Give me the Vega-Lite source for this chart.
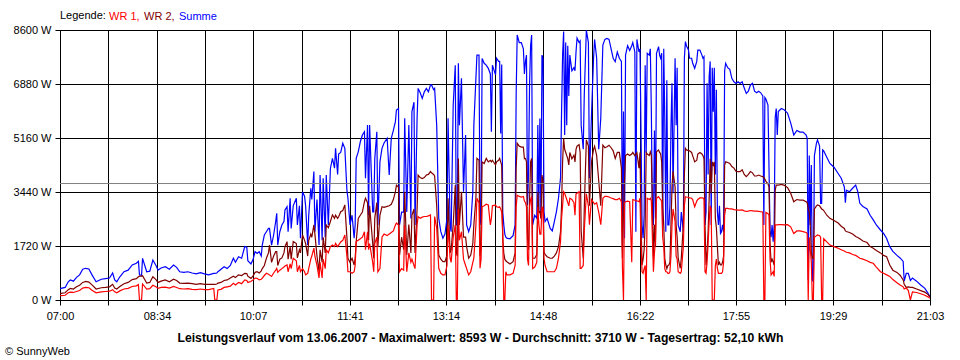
{
  "$schema": "https://vega.github.io/schema/vega-lite/v6.json",
  "autosize": "none",
  "width": 870,
  "height": 270,
  "padding": {"left": 60, "top": 30, "right": 30, "bottom": 60},
  "background": "#ffffff",
  "config": {
    "font": "Liberation Sans",
    "view": {"stroke": "#000000", "strokeWidth": 1},
    "axis": {"domainColor": "#000000", "tickColor": "#000000", "gridColor": "#000000", "gridOpacity": 1, "gridWidth": 1, "labelColor": "#000000", "labelFont": "Liberation Sans", "labelFontSize": 11, "tickSize": 5, "zindex": 1}
  },
  "title": {"text": "© SunnyWeb", "orient": "bottom", "anchor": "start", "dx": -8, "offset": 3, "fontSize": 11, "fontWeight": "normal", "color": "#000000", "font": "Liberation Sans"},
  "data": {
    "format": {"parse": {"Zeit": "date:'%H:%M'"}},
    "values": [
      {"Zeit":"07:00","WR 1":130,"WR 2":200,"Summe":350},
      {"Zeit":"07:01","WR 1":138,"WR 2":213,"Summe":372},
      {"Zeit":"07:05","WR 1":150,"WR 2":230,"Summe":400},
      {"Zeit":"07:08","WR 1":230,"WR 2":330,"Summe":580},
      {"Zeit":"07:10","WR 1":250,"WR 2":370,"Summe":637},
      {"Zeit":"07:13","WR 1":240,"WR 2":350,"Summe":600},
      {"Zeit":"07:16","WR 1":270,"WR 2":420,"Summe":720},
      {"Zeit":"07:19","WR 1":300,"WR 2":470,"Summe":800},
      {"Zeit":"07:22","WR 1":380,"WR 2":560,"Summe":980},
      {"Zeit":"07:25","WR 1":400,"WR 2":590,"Summe":1010},
      {"Zeit":"07:28","WR 1":390,"WR 2":570,"Summe":990},
      {"Zeit":"07:31","WR 1":310,"WR 2":480,"Summe":800},
      {"Zeit":"07:35","WR 1":230,"WR 2":350,"Summe":580},
      {"Zeit":"07:40","WR 1":260,"WR 2":390,"Summe":660},
      {"Zeit":"07:44","WR 1":270,"WR 2":400,"Summe":680},
      {"Zeit":"07:48","WR 1":280,"WR 2":420,"Summe":700},
      {"Zeit":"07:51","WR 1":330,"WR 2":500,"Summe":860},
      {"Zeit":"07:53","WR 1":260,"WR 2":380,"Summe":640},
      {"Zeit":"07:55","WR 1":230,"WR 2":350,"Summe":580},
      {"Zeit":"07:58","WR 1":290,"WR 2":430,"Summe":740},
      {"Zeit":"08:02","WR 1":350,"WR 2":520,"Summe":900},
      {"Zeit":"08:06","WR 1":370,"WR 2":560,"Summe":950},
      {"Zeit":"08:10","WR 1":430,"WR 2":650,"Summe":1115},
      {"Zeit":"08:14","WR 1":450,"WR 2":680,"Summe":1170},
      {"Zeit":"08:16","WR 1":490,"WR 2":740,"Summe":1230},
      {"Zeit":"08:17","WR 1":0,"WR 2":760,"Summe":800},
      {"Zeit":"08:19","WR 1":0,"WR 2":760,"Summe":780},
      {"Zeit":"08:20","WR 1":510,"WR 2":770,"Summe":1327},
      {"Zeit":"08:24","WR 1":350,"WR 2":540,"Summe":900},
      {"Zeit":"08:27","WR 1":360,"WR 2":560,"Summe":920},
      {"Zeit":"08:30","WR 1":470,"WR 2":740,"Summe":1274},
      {"Zeit":"08:33","WR 1":420,"WR 2":650,"Summe":1100},
      {"Zeit":"08:35","WR 1":370,"WR 2":560,"Summe":955},
      {"Zeit":"08:38","WR 1":400,"WR 2":600,"Summe":1020},
      {"Zeit":"08:42","WR 1":410,"WR 2":640,"Summe":1060},
      {"Zeit":"08:46","WR 1":380,"WR 2":580,"Summe":980},
      {"Zeit":"08:50","WR 1":430,"WR 2":660,"Summe":1115},
      {"Zeit":"08:53","WR 1":400,"WR 2":620,"Summe":1040},
      {"Zeit":"08:56","WR 1":360,"WR 2":540,"Summe":900},
      {"Zeit":"09:00","WR 1":350,"WR 2":530,"Summe":880},
      {"Zeit":"09:04","WR 1":360,"WR 2":540,"Summe":900},
      {"Zeit":"09:08","WR 1":340,"WR 2":520,"Summe":860},
      {"Zeit":"09:12","WR 1":330,"WR 2":500,"Summe":830},
      {"Zeit":"09:16","WR 1":350,"WR 2":520,"Summe":870},
      {"Zeit":"09:20","WR 1":330,"WR 2":500,"Summe":830},
      {"Zeit":"09:24","WR 1":330,"WR 2":500,"Summe":800},
      {"Zeit":"09:29","WR 1":370,"WR 2":500,"Summe":850},
      {"Zeit":"09:30","WR 1":0,"WR 2":500,"Summe":850},
      {"Zeit":"09:32","WR 1":0,"WR 2":510,"Summe":860},
      {"Zeit":"09:33","WR 1":320,"WR 2":540,"Summe":900},
      {"Zeit":"09:36","WR 1":340,"WR 2":560,"Summe":980},
      {"Zeit":"09:39","WR 1":400,"WR 2":620,"Summe":1060},
      {"Zeit":"09:42","WR 1":420,"WR 2":640,"Summe":1000},
      {"Zeit":"09:45","WR 1":440,"WR 2":700,"Summe":1100},
      {"Zeit":"09:48","WR 1":530,"WR 2":760,"Summe":1330},
      {"Zeit":"09:50","WR 1":480,"WR 2":720,"Summe":1200},
      {"Zeit":"09:53","WR 1":560,"WR 2":800,"Summe":1380},
      {"Zeit":"09:56","WR 1":520,"WR 2":780,"Summe":1330},
      {"Zeit":"09:59","WR 1":640,"WR 2":850,"Summe":1700},
      {"Zeit":"10:01","WR 1":620,"WR 2":840,"Summe":1680},
      {"Zeit":"10:02","WR 1":560,"WR 2":760,"Summe":1250},
      {"Zeit":"10:05","WR 1":590,"WR 2":690,"Summe":1150},
      {"Zeit":"10:07","WR 1":640,"WR 2":760,"Summe":1280},
      {"Zeit":"10:09","WR 1":700,"WR 2":880,"Summe":1540},
      {"Zeit":"10:11","WR 1":690,"WR 2":900,"Summe":1480},
      {"Zeit":"10:13","WR 1":640,"WR 2":860,"Summe":1540},
      {"Zeit":"10:15","WR 1":660,"WR 2":930,"Summe":1400},
      {"Zeit":"10:16","WR 1":700,"WR 2":1000,"Summe":1750},
      {"Zeit":"10:18","WR 1":780,"WR 2":1100,"Summe":2070},
      {"Zeit":"10:20","WR 1":850,"WR 2":1330,"Summe":2175},
      {"Zeit":"10:22","WR 1":820,"WR 2":1500,"Summe":2280},
      {"Zeit":"10:23","WR 1":800,"WR 2":1750,"Summe":2280},
      {"Zeit":"10:25","WR 1":750,"WR 2":1200,"Summe":1750},
      {"Zeit":"10:27","WR 1":860,"WR 2":1400,"Summe":2070},
      {"Zeit":"10:29","WR 1":950,"WR 2":1540,"Summe":2500},
      {"Zeit":"10:30","WR 1":1010,"WR 2":1540,"Summe":2760},
      {"Zeit":"10:31","WR 1":880,"WR 2":1100,"Summe":1750},
      {"Zeit":"10:33","WR 1":950,"WR 2":1300,"Summe":2175},
      {"Zeit":"10:35","WR 1":1000,"WR 2":1340,"Summe":2390},
      {"Zeit":"10:37","WR 1":1050,"WR 2":1500,"Summe":2500},
      {"Zeit":"10:38","WR 1":1080,"WR 2":1700,"Summe":2870},
      {"Zeit":"10:40","WR 1":1115,"WR 2":1860,"Summe":2970},
      {"Zeit":"10:41","WR 1":900,"WR 2":1300,"Summe":2175},
      {"Zeit":"10:43","WR 1":1150,"WR 2":1700,"Summe":3240},
      {"Zeit":"10:44","WR 1":1000,"WR 2":1300,"Summe":2280},
      {"Zeit":"10:46","WR 1":1330,"WR 2":1860,"Summe":3000},
      {"Zeit":"10:49","WR 1":1250,"WR 2":1800,"Summe":3240},
      {"Zeit":"10:50","WR 1":900,"WR 2":1340,"Summe":2390},
      {"Zeit":"10:52","WR 1":1100,"WR 2":1600,"Summe":3000},
      {"Zeit":"10:53","WR 1":900,"WR 2":1500,"Summe":1970},
      {"Zeit":"10:55","WR 1":1000,"WR 2":2070,"Summe":3450},
      {"Zeit":"10:57","WR 1":900,"WR 2":1900,"Summe":3300},
      {"Zeit":"10:58","WR 1":800,"WR 2":1800,"Summe":3000},
      {"Zeit":"11:00","WR 1":850,"WR 2":1400,"Summe":1750},
      {"Zeit":"11:01","WR 1":1000,"WR 2":1900,"Summe":2700},
      {"Zeit":"11:03","WR 1":1300,"WR 2":2100,"Summe":3560},
      {"Zeit":"11:04","WR 1":1400,"WR 2":2000,"Summe":3200},
      {"Zeit":"11:06","WR 1":1650,"WR 2":2390,"Summe":4090},
      {"Zeit":"11:07","WR 1":1400,"WR 2":2100,"Summe":2175},
      {"Zeit":"11:09","WR 1":1100,"WR 2":1400,"Summe":3200},
      {"Zeit":"11:11","WR 1":700,"WR 2":900,"Summe":1750},
      {"Zeit":"11:12","WR 1":1200,"WR 2":1600,"Summe":3980},
      {"Zeit":"11:14","WR 1":700,"WR 2":1200,"Summe":1900},
      {"Zeit":"11:15","WR 1":1300,"WR 2":2000,"Summe":3880},
      {"Zeit":"11:17","WR 1":1000,"WR 2":1500,"Summe":2000},
      {"Zeit":"11:18","WR 1":1600,"WR 2":2390,"Summe":3980},
      {"Zeit":"11:20","WR 1":1500,"WR 2":2300,"Summe":2390},
      {"Zeit":"11:22","WR 1":1700,"WR 2":2500,"Summe":4190},
      {"Zeit":"11:24","WR 1":1750,"WR 2":2710,"Summe":4510},
      {"Zeit":"11:26","WR 1":1700,"WR 2":2600,"Summe":4200},
      {"Zeit":"11:27","WR 1":1800,"WR 2":2700,"Summe":4830},
      {"Zeit":"11:29","WR 1":1700,"WR 2":2600,"Summe":4000},
      {"Zeit":"11:30","WR 1":1750,"WR 2":2650,"Summe":4650},
      {"Zeit":"11:32","WR 1":1850,"WR 2":2810,"Summe":4700},
      {"Zeit":"11:34","WR 1":1900,"WR 2":2850,"Summe":4990},
      {"Zeit":"11:36","WR 1":2070,"WR 2":3030,"Summe":4830},
      {"Zeit":"11:38","WR 1":1400,"WR 2":2000,"Summe":3500},
      {"Zeit":"11:39","WR 1":900,"WR 2":1330,"Summe":3240},
      {"Zeit":"11:41","WR 1":900,"WR 2":1200,"Summe":2390},
      {"Zeit":"11:43","WR 1":850,"WR 2":1330,"Summe":2700},
      {"Zeit":"11:45","WR 1":900,"WR 2":1115,"Summe":1970},
      {"Zeit":"11:46","WR 1":1100,"WR 2":1330,"Summe":2390},
      {"Zeit":"11:47","WR 1":1860,"WR 2":1860,"Summe":4510},
      {"Zeit":"11:49","WR 1":1900,"WR 2":2600,"Summe":4720},
      {"Zeit":"11:51","WR 1":1950,"WR 2":2700,"Summe":5040},
      {"Zeit":"11:53","WR 1":2000,"WR 2":2800,"Summe":5255},
      {"Zeit":"11:55","WR 1":2175,"WR 2":3130,"Summe":5360},
      {"Zeit":"11:56","WR 1":1600,"WR 2":3240,"Summe":3880},
      {"Zeit":"11:58","WR 1":2175,"WR 2":3100,"Summe":5570},
      {"Zeit":"11:59","WR 1":1600,"WR 2":1900,"Summe":2700},
      {"Zeit":"12:00","WR 1":1800,"WR 2":3000,"Summe":5570},
      {"Zeit":"12:03","WR 1":1200,"WR 2":1800,"Summe":2810},
      {"Zeit":"12:04","WR 1":900,"WR 2":1330,"Summe":2810},
      {"Zeit":"12:05","WR 1":1800,"WR 2":2600,"Summe":4500},
      {"Zeit":"12:07","WR 1":2000,"WR 2":3100,"Summe":5360},
      {"Zeit":"12:08","WR 1":900,"WR 2":1700,"Summe":2390},
      {"Zeit":"12:10","WR 1":1000,"WR 2":2700,"Summe":4400},
      {"Zeit":"12:12","WR 1":2000,"WR 2":2970,"Summe":4830},
      {"Zeit":"12:14","WR 1":2100,"WR 2":2950,"Summe":5000},
      {"Zeit":"12:17","WR 1":2050,"WR 2":2980,"Summe":5150},
      {"Zeit":"12:19","WR 1":2100,"WR 2":3000,"Summe":3980},
      {"Zeit":"12:21","WR 1":2150,"WR 2":3050,"Summe":5150},
      {"Zeit":"12:23","WR 1":2200,"WR 2":3200,"Summe":5400},
      {"Zeit":"12:25","WR 1":2390,"WR 2":3450,"Summe":5680},
      {"Zeit":"12:26","WR 1":2450,"WR 2":3660,"Summe":6050},
      {"Zeit":"12:28","WR 1":2390,"WR 2":3600,"Summe":6100},
      {"Zeit":"12:29","WR 1":900,"WR 2":1430,"Summe":2390},
      {"Zeit":"12:31","WR 1":1000,"WR 2":2000,"Summe":2800},
      {"Zeit":"12:33","WR 1":950,"WR 2":1600,"Summe":2800},
      {"Zeit":"12:34","WR 1":2390,"WR 2":3450,"Summe":5790},
      {"Zeit":"12:36","WR 1":900,"WR 2":1430,"Summe":2800},
      {"Zeit":"12:38","WR 1":1500,"WR 2":2400,"Summe":5570},
      {"Zeit":"12:40","WR 1":1200,"WR 2":1500,"Summe":2600},
      {"Zeit":"12:41","WR 1":1300,"WR 2":2700,"Summe":6000},
      {"Zeit":"12:43","WR 1":1100,"WR 2":2900,"Summe":6300},
      {"Zeit":"12:44","WR 1":1000,"WR 2":1500,"Summe":2390},
      {"Zeit":"12:46","WR 1":2390,"WR 2":2900,"Summe":5790},
      {"Zeit":"12:47","WR 1":2660,"WR 2":3980,"Summe":6740},
      {"Zeit":"12:49","WR 1":2600,"WR 2":3900,"Summe":6600},
      {"Zeit":"12:51","WR 1":2640,"WR 2":3870,"Summe":6420},
      {"Zeit":"12:53","WR 1":2660,"WR 2":3900,"Summe":6630},
      {"Zeit":"12:55","WR 1":2660,"WR 2":3980,"Summe":6740},
      {"Zeit":"12:57","WR 1":2680,"WR 2":4000,"Summe":6630},
      {"Zeit":"12:59","WR 1":2710,"WR 2":4090,"Summe":6850},
      {"Zeit":"13:00","WR 1":0,"WR 2":4050,"Summe":6850},
      {"Zeit":"13:02","WR 1":0,"WR 2":4000,"Summe":6700},
      {"Zeit":"13:03","WR 1":2660,"WR 2":3950,"Summe":6740},
      {"Zeit":"13:05","WR 1":2300,"WR 2":3000,"Summe":5570},
      {"Zeit":"13:07","WR 1":1010,"WR 2":1430,"Summe":2600},
      {"Zeit":"13:09","WR 1":850,"WR 2":1300,"Summe":2175},
      {"Zeit":"13:11","WR 1":800,"WR 2":1220,"Summe":1970},
      {"Zeit":"13:13","WR 1":800,"WR 2":1220,"Summe":2100},
      {"Zeit":"13:15","WR 1":1100,"WR 2":1430,"Summe":2600},
      {"Zeit":"13:16","WR 1":2390,"WR 2":3240,"Summe":5790},
      {"Zeit":"13:18","WR 1":1330,"WR 2":1500,"Summe":2390},
      {"Zeit":"13:19","WR 1":1200,"WR 2":1600,"Summe":2175},
      {"Zeit":"13:21","WR 1":2000,"WR 2":2400,"Summe":6210},
      {"Zeit":"13:23","WR 1":2390,"WR 2":3660,"Summe":7480},
      {"Zeit":"13:24","WR 1":0,"WR 2":1500,"Summe":2390},
      {"Zeit":"13:25","WR 1":0,"WR 2":1400,"Summe":2390},
      {"Zeit":"13:26","WR 1":2900,"WR 2":4510,"Summe":7540},
      {"Zeit":"13:27","WR 1":1900,"WR 2":2390,"Summe":5570},
      {"Zeit":"13:29","WR 1":2175,"WR 2":3450,"Summe":7060},
      {"Zeit":"13:31","WR 1":1300,"WR 2":2000,"Summe":3450},
      {"Zeit":"13:33","WR 1":1100,"WR 2":2000,"Summe":5255},
      {"Zeit":"13:34","WR 1":1000,"WR 2":1700,"Summe":2390},
      {"Zeit":"13:36","WR 1":800,"WR 2":1330,"Summe":2175},
      {"Zeit":"13:38","WR 1":900,"WR 2":1430,"Summe":2390},
      {"Zeit":"13:40","WR 1":1200,"WR 2":1800,"Summe":3450},
      {"Zeit":"13:41","WR 1":1330,"WR 2":2390,"Summe":5570},
      {"Zeit":"13:43","WR 1":2390,"WR 2":3240,"Summe":7060},
      {"Zeit":"13:44","WR 1":3240,"WR 2":4510,"Summe":7800},
      {"Zeit":"13:46","WR 1":3100,"WR 2":4450,"Summe":7800},
      {"Zeit":"13:47","WR 1":1010,"WR 2":1400,"Summe":2600},
      {"Zeit":"13:48","WR 1":1300,"WR 2":1700,"Summe":2390},
      {"Zeit":"13:49","WR 1":2970,"WR 2":4400,"Summe":7690},
      {"Zeit":"13:51","WR 1":3000,"WR 2":4350,"Summe":7540},
      {"Zeit":"13:53","WR 1":3050,"WR 2":4510,"Summe":7480},
      {"Zeit":"13:55","WR 1":3030,"WR 2":4400,"Summe":7380},
      {"Zeit":"13:57","WR 1":2390,"WR 2":4450,"Summe":7200},
      {"Zeit":"13:58","WR 1":2600,"WR 2":4400,"Summe":5360},
      {"Zeit":"13:59","WR 1":3000,"WR 2":4450,"Summe":7480},
      {"Zeit":"14:02","WR 1":3030,"WR 2":4300,"Summe":7170},
      {"Zeit":"14:03","WR 1":2970,"WR 2":4400,"Summe":7700},
      {"Zeit":"14:05","WR 1":2950,"WR 2":4450,"Summe":7600},
      {"Zeit":"14:06","WR 1":2970,"WR 2":4510,"Summe":7600},
      {"Zeit":"14:07","WR 1":2900,"WR 2":4400,"Summe":5300},
      {"Zeit":"14:08","WR 1":2800,"WR 2":4300,"Summe":7500},
      {"Zeit":"14:09","WR 1":2100,"WR 2":1970,"Summe":2810},
      {"Zeit":"14:10","WR 1":0,"WR 2":1500,"Summe":2400},
      {"Zeit":"14:11","WR 1":0,"WR 2":1300,"Summe":2100},
      {"Zeit":"14:12","WR 1":900,"WR 2":1250,"Summe":2000},
      {"Zeit":"14:13","WR 1":800,"WR 2":1220,"Summe":1970},
      {"Zeit":"14:16","WR 1":800,"WR 2":1150,"Summe":1950},
      {"Zeit":"14:19","WR 1":850,"WR 2":1220,"Summe":2050},
      {"Zeit":"14:21","WR 1":1100,"WR 2":1500,"Summe":2390},
      {"Zeit":"14:22","WR 1":2970,"WR 2":4200,"Summe":6530},
      {"Zeit":"14:23","WR 1":3340,"WR 2":4990,"Summe":8440},
      {"Zeit":"14:25","WR 1":3300,"WR 2":4900,"Summe":8200},
      {"Zeit":"14:27","WR 1":3280,"WR 2":4870,"Summe":8200},
      {"Zeit":"14:29","WR 1":3300,"WR 2":4870,"Summe":8000},
      {"Zeit":"14:30","WR 1":3150,"WR 2":4500,"Summe":7200},
      {"Zeit":"14:31","WR 1":3100,"WR 2":4510,"Summe":7600},
      {"Zeit":"14:32","WR 1":2970,"WR 2":4400,"Summe":7800},
      {"Zeit":"14:33","WR 1":1300,"WR 2":1970,"Summe":3030},
      {"Zeit":"14:34","WR 1":1100,"WR 2":1600,"Summe":4000},
      {"Zeit":"14:35","WR 1":2970,"WR 2":3200,"Summe":6900},
      {"Zeit":"14:36","WR 1":3200,"WR 2":4400,"Summe":8100},
      {"Zeit":"14:37","WR 1":3300,"WR 2":4510,"Summe":8440},
      {"Zeit":"14:38","WR 1":1000,"WR 2":1330,"Summe":2390},
      {"Zeit":"14:40","WR 1":1050,"WR 2":1330,"Summe":2700},
      {"Zeit":"14:42","WR 1":1200,"WR 2":1450,"Summe":2600},
      {"Zeit":"14:43","WR 1":2970,"WR 2":3450,"Summe":5570},
      {"Zeit":"14:44","WR 1":2400,"WR 2":2800,"Summe":2810},
      {"Zeit":"14:45","WR 1":2100,"WR 2":2810,"Summe":5780},
      {"Zeit":"14:46","WR 1":2100,"WR 2":2600,"Summe":2600},
      {"Zeit":"14:47","WR 1":2970,"WR 2":3980,"Summe":7800},
      {"Zeit":"14:48","WR 1":2900,"WR 2":3800,"Summe":7700},
      {"Zeit":"14:49","WR 1":1330,"WR 2":1540,"Summe":2810},
      {"Zeit":"14:50","WR 1":1100,"WR 2":1450,"Summe":2500},
      {"Zeit":"14:52","WR 1":900,"WR 2":1380,"Summe":2600},
      {"Zeit":"14:55","WR 1":900,"WR 2":1330,"Summe":2280},
      {"Zeit":"14:57","WR 1":900,"WR 2":1330,"Summe":2200},
      {"Zeit":"14:59","WR 1":900,"WR 2":1400,"Summe":2500},
      {"Zeit":"15:01","WR 1":1010,"WR 2":1500,"Summe":2810},
      {"Zeit":"15:03","WR 1":1330,"WR 2":1700,"Summe":3240},
      {"Zeit":"15:05","WR 1":1860,"WR 2":2175,"Summe":3880},
      {"Zeit":"15:06","WR 1":2600,"WR 2":3000,"Summe":6000},
      {"Zeit":"15:07","WR 1":3000,"WR 2":4400,"Summe":7800},
      {"Zeit":"15:08","WR 1":3450,"WR 2":5150,"Summe":8550},
      {"Zeit":"15:09","WR 1":3400,"WR 2":4800,"Summe":5255},
      {"Zeit":"15:10","WR 1":3300,"WR 2":4700,"Summe":8200},
      {"Zeit":"15:11","WR 1":3200,"WR 2":4600,"Summe":5570},
      {"Zeit":"15:12","WR 1":3100,"WR 2":4500,"Summe":8100},
      {"Zeit":"15:13","WR 1":3000,"WR 2":4300,"Summe":6500},
      {"Zeit":"15:14","WR 1":3240,"WR 2":4700,"Summe":7800},
      {"Zeit":"15:16","WR 1":3200,"WR 2":4500,"Summe":7300},
      {"Zeit":"15:18","WR 1":3100,"WR 2":4610,"Summe":7400},
      {"Zeit":"15:19","WR 1":2700,"WR 2":4400,"Summe":7300},
      {"Zeit":"15:20","WR 1":3380,"WR 2":4800,"Summe":7900},
      {"Zeit":"15:21","WR 1":3400,"WR 2":4900,"Summe":8340},
      {"Zeit":"15:23","WR 1":3450,"WR 2":4950,"Summe":8200},
      {"Zeit":"15:24","WR 1":1010,"WR 2":4700,"Summe":8250},
      {"Zeit":"15:25","WR 1":1010,"WR 2":2200,"Summe":5570},
      {"Zeit":"15:27","WR 1":1100,"WR 2":1330,"Summe":4800},
      {"Zeit":"15:28","WR 1":2200,"WR 2":2900,"Summe":6530},
      {"Zeit":"15:30","WR 1":3380,"WR 2":5100,"Summe":8593},
      {"Zeit":"15:32","WR 1":3000,"WR 2":4900,"Summe":8200},
      {"Zeit":"15:33","WR 1":2400,"WR 2":3000,"Summe":3880},
      {"Zeit":"15:35","WR 1":3200,"WR 2":4400,"Summe":5900},
      {"Zeit":"15:37","WR 1":3100,"WR 2":4800,"Summe":7700},
      {"Zeit":"15:38","WR 1":3050,"WR 2":4900,"Summe":8300},
      {"Zeit":"15:40","WR 1":3100,"WR 2":4600,"Summe":7700},
      {"Zeit":"15:42","WR 1":2800,"WR 2":3800,"Summe":4800},
      {"Zeit":"15:44","WR 1":2400,"WR 2":3000,"Summe":5800},
      {"Zeit":"15:46","WR 1":3240,"WR 2":4930,"Summe":8120},
      {"Zeit":"15:48","WR 1":3300,"WR 2":4850,"Summe":8300},
      {"Zeit":"15:50","WR 1":3300,"WR 2":4880,"Summe":8330},
      {"Zeit":"15:52","WR 1":3280,"WR 2":4930,"Summe":8300},
      {"Zeit":"15:54","WR 1":3250,"WR 2":4850,"Summe":8000},
      {"Zeit":"15:56","WR 1":3230,"WR 2":4750,"Summe":7700},
      {"Zeit":"15:58","WR 1":3200,"WR 2":4510,"Summe":7590},
      {"Zeit":"16:00","WR 1":3200,"WR 2":4700,"Summe":7900},
      {"Zeit":"16:02","WR 1":3240,"WR 2":4700,"Summe":7700},
      {"Zeit":"16:04","WR 1":3130,"WR 2":4200,"Summe":7600},
      {"Zeit":"16:05","WR 1":1000,"WR 2":1330,"Summe":1750},
      {"Zeit":"16:06","WR 1":0,"WR 2":2800,"Summe":6000},
      {"Zeit":"16:07","WR 1":3100,"WR 2":3800,"Summe":1970},
      {"Zeit":"16:08","WR 1":3130,"WR 2":4600,"Summe":7800},
      {"Zeit":"16:10","WR 1":3150,"WR 2":4650,"Summe":8100},
      {"Zeit":"16:12","WR 1":3130,"WR 2":4600,"Summe":7950},
      {"Zeit":"16:14","WR 1":1200,"WR 2":4650,"Summe":8100},
      {"Zeit":"16:15","WR 1":3200,"WR 2":4700,"Summe":8200},
      {"Zeit":"16:17","WR 1":3180,"WR 2":4600,"Summe":7900},
      {"Zeit":"16:18","WR 1":3150,"WR 2":4650,"Summe":2175},
      {"Zeit":"16:19","WR 1":3160,"WR 2":4690,"Summe":8300},
      {"Zeit":"16:21","WR 1":3130,"WR 2":4200,"Summe":7900},
      {"Zeit":"16:22","WR 1":3240,"WR 2":4700,"Summe":8000},
      {"Zeit":"16:23","WR 1":1800,"WR 2":2500,"Summe":5255},
      {"Zeit":"16:24","WR 1":900,"WR 2":1115,"Summe":2390},
      {"Zeit":"16:25","WR 1":850,"WR 2":1300,"Summe":1970},
      {"Zeit":"16:26","WR 1":1000,"WR 2":1600,"Summe":2700},
      {"Zeit":"16:27","WR 1":1100,"WR 2":2400,"Summe":7480},
      {"Zeit":"16:28","WR 1":0,"WR 2":4700,"Summe":4700},
      {"Zeit":"16:29","WR 1":3240,"WR 2":4650,"Summe":7860},
      {"Zeit":"16:31","WR 1":3200,"WR 2":4600,"Summe":7800},
      {"Zeit":"16:32","WR 1":3240,"WR 2":4720,"Summe":8000},
      {"Zeit":"16:33","WR 1":3150,"WR 2":4600,"Summe":6000},
      {"Zeit":"16:34","WR 1":2000,"WR 2":3000,"Summe":2800},
      {"Zeit":"16:35","WR 1":900,"WR 2":1330,"Summe":2390},
      {"Zeit":"16:36","WR 1":1500,"WR 2":2400,"Summe":5400},
      {"Zeit":"16:37","WR 1":1900,"WR 2":1700,"Summe":2600},
      {"Zeit":"16:38","WR 1":3240,"WR 2":4720,"Summe":7860},
      {"Zeit":"16:40","WR 1":3290,"WR 2":4780,"Summe":8070},
      {"Zeit":"16:41","WR 1":3240,"WR 2":4700,"Summe":7800},
      {"Zeit":"16:42","WR 1":3200,"WR 2":4650,"Summe":7700},
      {"Zeit":"16:43","WR 1":3150,"WR 2":4400,"Summe":7860},
      {"Zeit":"16:44","WR 1":2000,"WR 2":3000,"Summe":2390},
      {"Zeit":"16:45","WR 1":1700,"WR 2":2390,"Summe":8000},
      {"Zeit":"16:46","WR 1":1000,"WR 2":1330,"Summe":5800},
      {"Zeit":"16:47","WR 1":900,"WR 2":1115,"Summe":2175},
      {"Zeit":"16:48","WR 1":900,"WR 2":1000,"Summe":7000},
      {"Zeit":"16:49","WR 1":850,"WR 2":1100,"Summe":2390},
      {"Zeit":"16:50","WR 1":850,"WR 2":1115,"Summe":2390},
      {"Zeit":"16:51","WR 1":900,"WR 2":1200,"Summe":3000},
      {"Zeit":"16:52","WR 1":1400,"WR 2":2390,"Summe":5500},
      {"Zeit":"16:53","WR 1":2390,"WR 2":3600,"Summe":6900},
      {"Zeit":"16:54","WR 1":2900,"WR 2":4100,"Summe":3400},
      {"Zeit":"16:56","WR 1":2500,"WR 2":3600,"Summe":7700},
      {"Zeit":"16:57","WR 1":1400,"WR 2":2390,"Summe":5570},
      {"Zeit":"16:58","WR 1":1300,"WR 2":2000,"Summe":7400},
      {"Zeit":"16:59","WR 1":900,"WR 2":1330,"Summe":2390},
      {"Zeit":"17:01","WR 1":850,"WR 2":1010,"Summe":2175},
      {"Zeit":"17:02","WR 1":900,"WR 2":1330,"Summe":2800},
      {"Zeit":"17:04","WR 1":1700,"WR 2":2390,"Summe":2175},
      {"Zeit":"17:05","WR 1":3000,"WR 2":4000,"Summe":7700},
      {"Zeit":"17:06","WR 1":3290,"WR 2":4830,"Summe":8230},
      {"Zeit":"17:07","WR 1":3280,"WR 2":4780,"Summe":8100},
      {"Zeit":"17:09","WR 1":3270,"WR 2":4760,"Summe":7960},
      {"Zeit":"17:10","WR 1":3250,"WR 2":4750,"Summe":7700},
      {"Zeit":"17:12","WR 1":3240,"WR 2":4700,"Summe":7700},
      {"Zeit":"17:13","WR 1":3200,"WR 2":4600,"Summe":7550},
      {"Zeit":"17:15","WR 1":2970,"WR 2":4400,"Summe":7380},
      {"Zeit":"17:17","WR 1":3150,"WR 2":4450,"Summe":7600},
      {"Zeit":"17:18","WR 1":3200,"WR 2":4650,"Summe":7960},
      {"Zeit":"17:20","WR 1":3250,"WR 2":4700,"Summe":7960},
      {"Zeit":"17:22","WR 1":3250,"WR 2":4650,"Summe":7800},
      {"Zeit":"17:23","WR 1":3250,"WR 2":4600,"Summe":7700},
      {"Zeit":"17:24","WR 1":3200,"WR 2":4500,"Summe":7750},
      {"Zeit":"17:25","WR 1":900,"WR 2":2390,"Summe":2390},
      {"Zeit":"17:26","WR 1":850,"WR 2":1115,"Summe":2800},
      {"Zeit":"17:27","WR 1":1200,"WR 2":1500,"Summe":6900},
      {"Zeit":"17:28","WR 1":1800,"WR 2":2175,"Summe":4000},
      {"Zeit":"17:29","WR 1":2500,"WR 2":3200,"Summe":7100},
      {"Zeit":"17:30","WR 1":3000,"WR 2":4500,"Summe":7600},
      {"Zeit":"17:31","WR 1":2900,"WR 2":3400,"Summe":2390},
      {"Zeit":"17:32","WR 1":0,"WR 2":4400,"Summe":7400},
      {"Zeit":"17:33","WR 1":0,"WR 2":4300,"Summe":6000},
      {"Zeit":"17:34","WR 1":0,"WR 2":4400,"Summe":7400},
      {"Zeit":"17:35","WR 1":1100,"WR 2":2600,"Summe":4000},
      {"Zeit":"17:36","WR 1":1300,"WR 2":2300,"Summe":6700},
      {"Zeit":"17:37","WR 1":1000,"WR 2":1700,"Summe":2800},
      {"Zeit":"17:38","WR 1":850,"WR 2":1115,"Summe":2390},
      {"Zeit":"17:39","WR 1":850,"WR 2":1200,"Summe":3000},
      {"Zeit":"17:40","WR 1":850,"WR 2":1115,"Summe":2120},
      {"Zeit":"17:41","WR 1":850,"WR 2":1115,"Summe":2175},
      {"Zeit":"17:42","WR 1":900,"WR 2":1200,"Summe":2390},
      {"Zeit":"17:43","WR 1":1200,"WR 2":1400,"Summe":2175},
      {"Zeit":"17:44","WR 1":2700,"WR 2":4300,"Summe":7300},
      {"Zeit":"17:45","WR 1":2920,"WR 2":4400,"Summe":7540},
      {"Zeit":"17:47","WR 1":2920,"WR 2":4380,"Summe":7400},
      {"Zeit":"17:49","WR 1":2900,"WR 2":4350,"Summe":7350},
      {"Zeit":"17:51","WR 1":2900,"WR 2":4250,"Summe":7060},
      {"Zeit":"17:53","WR 1":2880,"WR 2":4200,"Summe":6950},
      {"Zeit":"17:55","WR 1":2870,"WR 2":4100,"Summe":6900},
      {"Zeit":"17:57","WR 1":2860,"WR 2":4090,"Summe":6950},
      {"Zeit":"17:59","WR 1":2860,"WR 2":4090,"Summe":6900},
      {"Zeit":"18:01","WR 1":2870,"WR 2":4150,"Summe":6950},
      {"Zeit":"18:03","WR 1":2840,"WR 2":4000,"Summe":6750},
      {"Zeit":"18:05","WR 1":2820,"WR 2":3930,"Summe":6580},
      {"Zeit":"18:07","WR 1":2830,"WR 2":4000,"Summe":6650},
      {"Zeit":"18:09","WR 1":2850,"WR 2":4090,"Summe":6850},
      {"Zeit":"18:11","WR 1":2840,"WR 2":4050,"Summe":6900},
      {"Zeit":"18:13","WR 1":2830,"WR 2":3950,"Summe":6650},
      {"Zeit":"18:15","WR 1":2830,"WR 2":3950,"Summe":6600},
      {"Zeit":"18:17","WR 1":2820,"WR 2":3980,"Summe":6650},
      {"Zeit":"18:19","WR 1":2810,"WR 2":3950,"Summe":6600},
      {"Zeit":"18:21","WR 1":2800,"WR 2":3930,"Summe":6500},
      {"Zeit":"18:22","WR 1":0,"WR 2":3900,"Summe":2390},
      {"Zeit":"18:23","WR 1":0,"WR 2":3850,"Summe":6450},
      {"Zeit":"18:24","WR 1":2790,"WR 2":3780,"Summe":6400},
      {"Zeit":"18:26","WR 1":2750,"WR 2":3700,"Summe":6210},
      {"Zeit":"18:27","WR 1":2700,"WR 2":3600,"Summe":4200},
      {"Zeit":"18:28","WR 1":1300,"WR 2":1800,"Summe":2200},
      {"Zeit":"18:29","WR 1":800,"WR 2":1200,"Summe":2000},
      {"Zeit":"18:30","WR 1":850,"WR 2":1300,"Summe":2390},
      {"Zeit":"18:31","WR 1":900,"WR 2":1220,"Summe":1860},
      {"Zeit":"18:32","WR 1":750,"WR 2":1115,"Summe":2390},
      {"Zeit":"18:33","WR 1":2390,"WR 2":3500,"Summe":5800},
      {"Zeit":"18:34","WR 1":2390,"WR 2":3660,"Summe":6100},
      {"Zeit":"18:35","WR 1":2390,"WR 2":3660,"Summe":5255},
      {"Zeit":"18:36","WR 1":2400,"WR 2":3660,"Summe":6000},
      {"Zeit":"18:39","WR 1":2400,"WR 2":3680,"Summe":6100},
      {"Zeit":"18:42","WR 1":2390,"WR 2":3650,"Summe":6050},
      {"Zeit":"18:45","WR 1":2400,"WR 2":3580,"Summe":5950},
      {"Zeit":"18:48","WR 1":2330,"WR 2":3400,"Summe":5640},
      {"Zeit":"18:51","WR 1":2120,"WR 2":3130,"Summe":5255},
      {"Zeit":"18:54","WR 1":2200,"WR 2":3200,"Summe":5400},
      {"Zeit":"18:57","WR 1":2200,"WR 2":3180,"Summe":5350},
      {"Zeit":"19:00","WR 1":2180,"WR 2":3180,"Summe":5350},
      {"Zeit":"19:03","WR 1":2150,"WR 2":3130,"Summe":5255},
      {"Zeit":"19:04","WR 1":2120,"WR 2":3100,"Summe":5150},
      {"Zeit":"19:05","WR 1":0,"WR 2":2900,"Summe":640},
      {"Zeit":"19:06","WR 1":2000,"WR 2":2800,"Summe":4600},
      {"Zeit":"19:07","WR 1":1600,"WR 2":2390,"Summe":2390},
      {"Zeit":"19:08","WR 1":1200,"WR 2":1500,"Summe":4300},
      {"Zeit":"19:09","WR 1":0,"WR 2":1330,"Summe":640},
      {"Zeit":"19:10","WR 1":0,"WR 2":1330,"Summe":580},
      {"Zeit":"19:11","WR 1":2000,"WR 2":2900,"Summe":4600},
      {"Zeit":"19:13","WR 1":2050,"WR 2":3000,"Summe":5000},
      {"Zeit":"19:14","WR 1":2070,"WR 2":3030,"Summe":5100},
      {"Zeit":"19:16","WR 1":2050,"WR 2":3000,"Summe":4900},
      {"Zeit":"19:17","WR 1":2000,"WR 2":2950,"Summe":3080},
      {"Zeit":"19:18","WR 1":0,"WR 2":2900,"Summe":3080},
      {"Zeit":"19:19","WR 1":0,"WR 2":2880,"Summe":4780},
      {"Zeit":"19:20","WR 1":1950,"WR 2":2850,"Summe":4750},
      {"Zeit":"19:23","WR 1":1850,"WR 2":2700,"Summe":4550},
      {"Zeit":"19:26","WR 1":1750,"WR 2":2600,"Summe":4350},
      {"Zeit":"19:30","WR 1":1700,"WR 2":2530,"Summe":4230},
      {"Zeit":"19:34","WR 1":1650,"WR 2":2450,"Summe":4030},
      {"Zeit":"19:37","WR 1":1600,"WR 2":2350,"Summe":3880},
      {"Zeit":"19:40","WR 1":1560,"WR 2":2280,"Summe":3600},
      {"Zeit":"19:41","WR 1":1540,"WR 2":2200,"Summe":3100},
      {"Zeit":"19:42","WR 1":1520,"WR 2":2180,"Summe":3500},
      {"Zeit":"19:45","WR 1":1500,"WR 2":2150,"Summe":3450},
      {"Zeit":"19:48","WR 1":1450,"WR 2":2100,"Summe":3560},
      {"Zeit":"19:51","WR 1":1420,"WR 2":2020,"Summe":3660},
      {"Zeit":"19:53","WR 1":1380,"WR 2":1990,"Summe":3450},
      {"Zeit":"19:55","WR 1":1330,"WR 2":1950,"Summe":3080},
      {"Zeit":"19:58","WR 1":1300,"WR 2":1880,"Summe":2980},
      {"Zeit":"20:02","WR 1":1250,"WR 2":1830,"Summe":2900},
      {"Zeit":"20:05","WR 1":1200,"WR 2":1700,"Summe":2700},
      {"Zeit":"20:08","WR 1":1170,"WR 2":1650,"Summe":2550},
      {"Zeit":"20:11","WR 1":1050,"WR 2":1580,"Summe":2390},
      {"Zeit":"20:15","WR 1":900,"WR 2":1500,"Summe":2230},
      {"Zeit":"20:18","WR 1":850,"WR 2":1420,"Summe":2120},
      {"Zeit":"20:21","WR 1":800,"WR 2":1380,"Summe":1960},
      {"Zeit":"20:24","WR 1":750,"WR 2":1115,"Summe":1700},
      {"Zeit":"20:27","WR 1":650,"WR 2":950,"Summe":1550},
      {"Zeit":"20:31","WR 1":550,"WR 2":880,"Summe":1420},
      {"Zeit":"20:34","WR 1":480,"WR 2":790,"Summe":1340},
      {"Zeit":"20:37","WR 1":420,"WR 2":640,"Summe":1230},
      {"Zeit":"20:38","WR 1":350,"WR 2":500,"Summe":600},
      {"Zeit":"20:40","WR 1":380,"WR 2":400,"Summe":850},
      {"Zeit":"20:42","WR 1":300,"WR 2":420,"Summe":850},
      {"Zeit":"20:44","WR 1":0,"WR 2":400,"Summe":620},
      {"Zeit":"20:46","WR 1":260,"WR 2":400,"Summe":700},
      {"Zeit":"20:50","WR 1":240,"WR 2":350,"Summe":600},
      {"Zeit":"20:54","WR 1":200,"WR 2":300,"Summe":480},
      {"Zeit":"20:58","WR 1":150,"WR 2":250,"Summe":370},
      {"Zeit":"21:01","WR 1":100,"WR 2":180,"Summe":220},
      {"Zeit":"21:03","WR 1":60,"WR 2":100,"Summe":100}
    ]
  },
  "layer": [
    {
      "mark": {"type": "line", "strokeWidth": 1.2, "clip": true},
      "encoding": {
        "x": {
          "field": "Zeit", "type": "temporal",
          "scale": {"domain": [{"year": 1900, "month": 1, "date": 1, "hours": 7, "minutes": 0}, {"year": 1900, "month": 1, "date": 1, "hours": 21, "minutes": 3}], "nice": false},
          "axis": {
            "values": [
              {"year": 1900, "month": 1, "date": 1, "hours": 7, "minutes": 0, "seconds": 0},
              {"year": 1900, "month": 1, "date": 1, "hours": 7, "minutes": 46, "seconds": 50},
              {"year": 1900, "month": 1, "date": 1, "hours": 8, "minutes": 34, "seconds": 0},
              {"year": 1900, "month": 1, "date": 1, "hours": 9, "minutes": 20, "seconds": 30},
              {"year": 1900, "month": 1, "date": 1, "hours": 10, "minutes": 7, "seconds": 0},
              {"year": 1900, "month": 1, "date": 1, "hours": 10, "minutes": 54, "seconds": 10},
              {"year": 1900, "month": 1, "date": 1, "hours": 11, "minutes": 41, "seconds": 0},
              {"year": 1900, "month": 1, "date": 1, "hours": 12, "minutes": 27, "seconds": 50},
              {"year": 1900, "month": 1, "date": 1, "hours": 13, "minutes": 14, "seconds": 0},
              {"year": 1900, "month": 1, "date": 1, "hours": 14, "minutes": 1, "seconds": 30},
              {"year": 1900, "month": 1, "date": 1, "hours": 14, "minutes": 48, "seconds": 0},
              {"year": 1900, "month": 1, "date": 1, "hours": 15, "minutes": 35, "seconds": 10},
              {"year": 1900, "month": 1, "date": 1, "hours": 16, "minutes": 22, "seconds": 0},
              {"year": 1900, "month": 1, "date": 1, "hours": 17, "minutes": 8, "seconds": 50},
              {"year": 1900, "month": 1, "date": 1, "hours": 17, "minutes": 55, "seconds": 0},
              {"year": 1900, "month": 1, "date": 1, "hours": 18, "minutes": 42, "seconds": 30},
              {"year": 1900, "month": 1, "date": 1, "hours": 19, "minutes": 29, "seconds": 0},
              {"year": 1900, "month": 1, "date": 1, "hours": 20, "minutes": 16, "seconds": 10},
              {"year": 1900, "month": 1, "date": 1, "hours": 21, "minutes": 3, "seconds": 0}
            ],
            "labelExpr": "seconds(datum.value) == 0 ? timeFormat(datum.value, '%H:%M') : ''",
            "labelOverlap": false,
            "labelFlush": false,
            "grid": true,
            "labelPadding": 5,
            "title": "Leistungsverlauf vom 13.06.2007 - Maximalwert: 8593 W - Durchschnitt: 3710 W - Tagesertrag: 52,10 kWh",
            "titleFont": "Liberation Sans",
            "titleFontWeight": "bold",
            "titleFontSize": 12.2,
            "titleColor": "#000000",
            "titlePadding": 10,
            "titleX": 420
          }
        },
        "y": {
          "field": "Summe", "type": "quantitative",
          "scale": {"domain": [0, 8600], "nice": false},
          "axis": {"values": [0, 1720, 3440, 5160, 6880, 8600], "labelExpr": "datum.value + ' W'", "grid": true, "title": null, "labelPadding": 4}
        },
        "color": {
          "datum": "Summe", "type": "nominal",
          "scale": {"domain": ["WR 1", "WR 2", "Summe"], "range": ["#ff0000", "#800000", "#0000ff"]},
          "legend": {
            "orient": "none", "legendX": 0, "legendY": -19, "direction": "horizontal",
            "title": "Legende:", "titleOrient": "left", "titleFont": "Liberation Sans", "titleFontSize": 11, "titleFontWeight": "normal", "titleColor": "#000000", "titlePadding": 4,
            "labelFont": "Liberation Sans", "labelFontSize": 11, "labelOffset": -12, "columnPadding": 4,
            "symbolSize": 0, "symbolOpacity": 0, "symbolStrokeWidth": 0,
            "labelExpr": "datum.label == 'Summe' ? datum.label : datum.label + ','",
            "encode": {"labels": {"update": {"fill": {"signal": "scale('color', datum.value)"}}}}
          }
        }
      }
    },
    {
      "mark": {"type": "line", "strokeWidth": 1.2, "clip": true},
      "encoding": {
        "x": {"field": "Zeit", "type": "temporal"},
        "y": {"field": "WR 2", "type": "quantitative"},
        "color": {"datum": "WR 2", "type": "nominal"}
      }
    },
    {
      "mark": {"type": "line", "strokeWidth": 1.2, "clip": true},
      "encoding": {
        "x": {"field": "Zeit", "type": "temporal"},
        "y": {"field": "WR 1", "type": "quantitative"},
        "color": {"datum": "WR 1", "type": "nominal"}
      }
    },
    {
      "data": {"values": [{"Durchschnitt": 3710}]},
      "mark": {"type": "rule", "color": "#808080", "strokeWidth": 1},
      "encoding": {
        "y": {"field": "Durchschnitt", "type": "quantitative"}
      }
    }
  ]
}
